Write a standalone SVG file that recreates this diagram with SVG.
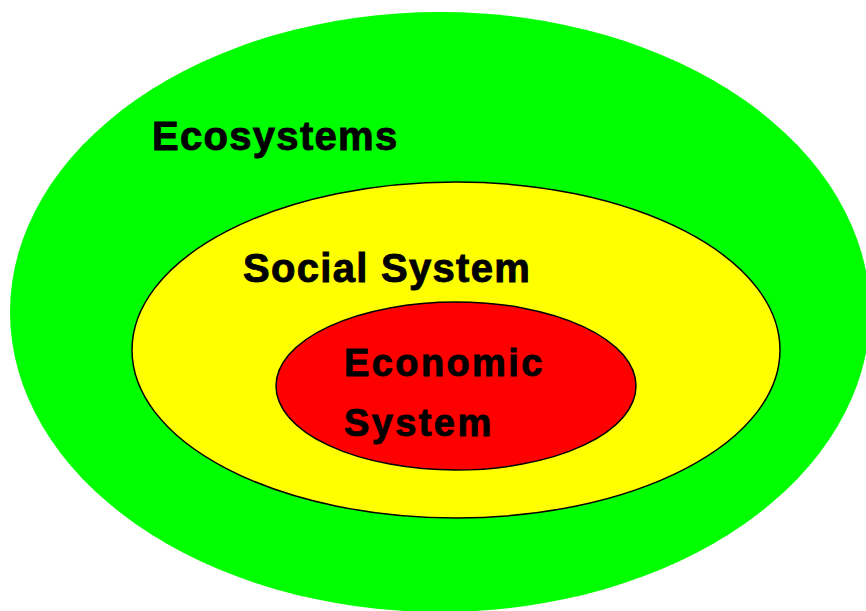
<svg xmlns="http://www.w3.org/2000/svg" width="866" height="611" viewBox="0 0 866 611">
<style>
.lbl{font-family:"Liberation Sans",Arial,sans-serif;font-weight:bold;fill:#000;stroke:#000;stroke-width:0.9}
.ring{stroke:#000;stroke-width:1.5}
</style>
<rect width="866" height="611" fill="#fff"/>
<g id="ecosystems">
<ellipse cx="440" cy="312" rx="430" ry="300" fill="#00ff00"/>
<text class="lbl" x="152" y="150" font-size="40" letter-spacing="1.3">Ecosystems</text>
</g>
<g id="social">
<ellipse class="ring" cx="456" cy="350" rx="324" ry="168" fill="#ffff00"/>
<text class="lbl" x="243" y="282" font-size="40" letter-spacing="1.3">Social System</text>
</g>
<g id="economic">
<ellipse class="ring" cx="456" cy="386" rx="180" ry="84" fill="#ff0000"/>
<text class="lbl" x="344" y="376" font-size="38" letter-spacing="2.4">Economic</text>
<text class="lbl" x="344" y="436" font-size="38" letter-spacing="2.4">System</text>
</g>
<g id="connectors"/>
</svg>
